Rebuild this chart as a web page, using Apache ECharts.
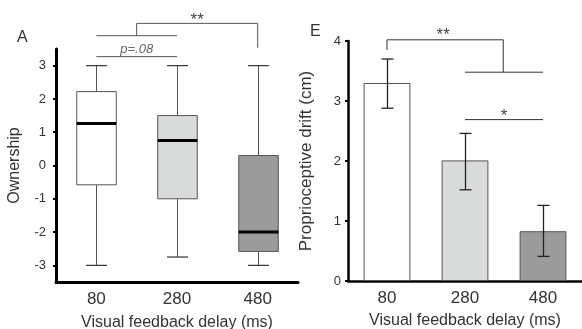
<!DOCTYPE html>
<html><head><meta charset="utf-8">
<script src="https://cdn.jsdelivr.net/npm/echarts@6/dist/echarts.min.js"></script>
<style>html,body{margin:0;padding:0;background:#fff}#c{width:582px;height:329px}</style>
</head><body><div id="c"></div>
<script>
// ---- data ----
const categories = ['80', '280', '480'];
const ownershipMin = [-3, -2.75, -3];
const ownershipQ1 = [-0.58, -1, -2.58];
const ownershipMedian = [1.26, 0.75, -2];
const ownershipQ3 = [2.22, 1.5, 0.3];
const ownershipMax = [3, 3, 3];
const ownershipTicks = [-3, -2, -1, 0, 1, 2, 3];
const driftMean = [3.3, 2.01, 0.83];
const driftErrLow = [2.88, 1.52, 0.41];
const driftErrHigh = [3.7, 2.46, 1.26];
const driftTicks = [0, 1, 2, 3, 4];
// significance annotations (category index, value)
const leftSegments = [[0, 3.27, 1, 3.27], [0, 3.9, 1, 3.9], [0.5, 3.9, 0.5, 4.27], [0.5, 4.27, 2, 4.27], [2, 4.27, 2, 3.54]];
const leftTexts = [['p=.08', 0.5, 3.5], ['**', 1.25, 4.36]];
const rightSegments = [[0, 3.85, 0, 4.02], [0, 4.02, 1.49, 4.02], [1.49, 4.02, 1.49, 3.48], [1, 3.48, 2, 3.48], [1, 2.69, 2, 2.69]];
const rightTexts = [['**', 0.72, 4.1], ['*', 1.5, 2.75]];

const fills = ['#ffffff', '#d9dbdb', '#9b9b9b'];
const FONT = '"Liberation Sans", Arial, sans-serif';

const chart = echarts.init(document.getElementById('c'), null, {renderer: 'canvas'});

function ln(x1, y1, x2, y2, w, c) {
  return {type: 'line', shape: {x1, y1, x2, y2}, style: {stroke: c, lineWidth: w}};
}
function pt(api, x, y) {
  const i = Math.floor(x), f = x - i;
  const a = api.coord([i, y]);
  if (f === 0) return a;
  const b = api.coord([i + 1, y]);
  return [a[0] + (b[0] - a[0]) * f, a[1]];
}

function renderBox(params, api) {
  const i = api.value(0);
  const lo = api.coord([i, api.value(1)]);
  const q1 = api.coord([i, api.value(2)]);
  const md = api.coord([i, api.value(3)]);
  const q3 = api.coord([i, api.value(4)]);
  const hi = api.coord([i, api.value(5)]);
  const band = api.size([1, 0])[0];
  const bw = band * 0.49, cw = band * 0.26;
  const x = Math.round(lo[0]) + 0.5;
  return {type: 'group', children: [
    ln(x, hi[1], x, q3[1], 1, '#555'),
    ln(x, q1[1], x, lo[1], 1, '#555'),
    ln(x - cw / 2, hi[1], x + cw / 2, hi[1], 1.2, '#333'),
    ln(x - cw / 2, lo[1], x + cw / 2, lo[1], 1.2, '#333'),
    {type: 'rect', shape: {x: x - bw / 2, y: q3[1], width: bw, height: q1[1] - q3[1]},
     style: {fill: fills[i], stroke: '#555', lineWidth: 1}},
    ln(x - bw / 2, md[1], x + bw / 2, md[1], 3, '#000')
  ]};
}

function renderErr(params, api) {
  const i = api.value(0);
  const lo = api.coord([i, api.value(1)]);
  const hi = api.coord([i, api.value(2)]);
  const x = Math.round(lo[0]) + 0.5;
  const cw = 12;
  return {type: 'group', children: [
    ln(x, hi[1], x, lo[1], 1.3, '#222'),
    ln(x - cw / 2, hi[1], x + cw / 2, hi[1], 1.3, '#222'),
    ln(x - cw / 2, lo[1], x + cw / 2, lo[1], 1.3, '#222')
  ]};
}

function annot(segments, texts, color) {
  return function (params, api) {
    const children = [];
    segments.forEach(s => {
      const a = pt(api, s[0], s[1]), b = pt(api, s[2], s[3]);
      children.push(ln(a[0], a[1], b[0], b[1], 1, color));
    });
    texts.forEach(t => {
      const p = pt(api, t[1], t[2]);
      const italic = t[0].indexOf('p=') === 0;
      children.push({type: 'text', x: p[0], y: p[1], style: {
        text: t[0], fill: italic ? '#666' : '#444',
        font: (italic ? 'italic 13px ' : '17px ') + FONT,
        textAlign: 'center', textVerticalAlign: 'middle'}});
    });
    return {type: 'group', children};
  };
}

const boxData = categories.map((c, i) => [i, ownershipMin[i], ownershipQ1[i], ownershipMedian[i], ownershipQ3[i], ownershipMax[i]]);
const errData = categories.map((c, i) => [i, driftErrLow[i], driftErrHigh[i]]);
const barData = driftMean.map((v, i) => ({value: v, itemStyle: {color: fills[i], borderColor: '#555', borderWidth: 1}}));

const xAxisBase = {
  type: 'category', data: categories, boundaryGap: true,
  name: 'Visual feedback delay (ms)', nameLocation: 'middle',
  nameTextStyle: {fontFamily: FONT, fontSize: 16, color: '#333'},
  axisLine: {onZero: false, lineStyle: {color: '#000', width: 3}},
  axisTick: {alignWithLabel: true, length: 4, lineStyle: {color: '#000', width: 3}},
  axisLabel: {fontFamily: FONT, fontSize: 17, color: '#333', margin: 9},
  splitLine: {show: false}
};

const option = {
  animation: false,
  backgroundColor: '#fff',
  title: [
    {text: 'A', left: 12, top: 25, textStyle: {fontFamily: FONT, fontSize: 16, fontWeight: 'normal', color: '#333'}},
    {text: 'E', left: 305, top: 19, textStyle: {fontFamily: FONT, fontSize: 16, fontWeight: 'normal', color: '#333'}}
  ],
  grid: [
    {left: 56, top: 49, width: 242, height: 233, containLabel: false, outerBoundsMode: 'none'},
    {left: 348, top: 41, width: 234, height: 240, containLabel: false, outerBoundsMode: 'none'}
  ],
  xAxis: [
    Object.assign({}, xAxisBase, {gridIndex: 0, nameGap: 33}),
    Object.assign({}, xAxisBase, {gridIndex: 1, nameGap: 32, axisLine: {onZero: false, lineStyle: {color: '#000', width: 2.5}}})
  ],
  yAxis: [
    {
      gridIndex: 0, type: 'value', min: -3.5, max: 3.5,
      name: 'Ownership', nameLocation: 'middle', nameGap: 33,
      nameTextStyle: {fontFamily: FONT, fontSize: 16, color: '#333'},
      axisLine: {show: true, onZero: false, lineStyle: {color: '#000', width: 3}},
      axisTick: {show: true, length: 3, customValues: ownershipTicks, lineStyle: {color: '#000', width: 2}},
      axisLabel: {fontFamily: FONT, fontSize: 13, color: '#333', margin: 10, customValues: ownershipTicks},
      splitLine: {show: false}
    },
    {
      gridIndex: 1, type: 'value', min: 0, max: 4, interval: 1,
      name: 'Proprioceptive drift (cm)', nameLocation: 'middle', nameGap: 33,
      nameTextStyle: {fontFamily: FONT, fontSize: 17, color: '#333'},
      axisLine: {show: true, onZero: false, lineStyle: {color: '#000', width: 2.5}},
      axisTick: {show: true, length: 3, lineStyle: {color: '#000', width: 2}},
      axisLabel: {fontFamily: FONT, fontSize: 13, color: '#333', margin: 7},
      splitLine: {show: false}
    }
  ],
  series: [
    {type: 'custom', xAxisIndex: 0, yAxisIndex: 0, renderItem: renderBox, data: boxData,
     encode: {x: 0, y: [1, 2, 3, 4, 5]}, clip: false, z: 3},
    {type: 'custom', xAxisIndex: 0, yAxisIndex: 0, renderItem: annot(leftSegments, leftTexts, '#555'),
     data: [[0, 0]], encode: {x: 0, y: 1}, clip: false, z: 4, silent: true},
    {type: 'bar', xAxisIndex: 1, yAxisIndex: 1, data: barData, barWidth: '60%', z: 2},
    {type: 'custom', xAxisIndex: 1, yAxisIndex: 1, renderItem: renderErr, data: errData,
     encode: {x: 0, y: [1, 2]}, clip: false, z: 3},
    {type: 'custom', xAxisIndex: 1, yAxisIndex: 1, renderItem: annot(rightSegments, rightTexts, '#333'),
     data: [[0, 0]], encode: {x: 0, y: 1}, clip: false, z: 4, silent: true}
  ]
};
chart.setOption(option);
</script></body></html>
